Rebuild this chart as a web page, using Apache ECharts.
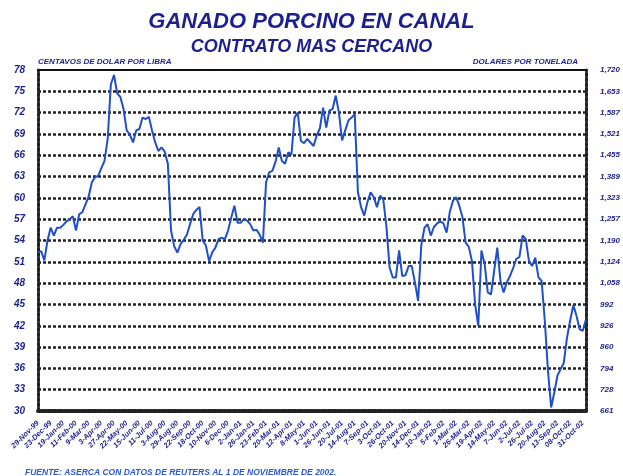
<!DOCTYPE html>
<html>
<head>
    <meta charset="utf-8" />
    <title>Ganado porcino en canal</title>
    <style>
        html, body { margin: 0; padding: 0; background: #fff; }
        #chart { width: 623px; height: 476px; }
    </style>
</head>
<body>
    <div id="chart"></div>
    <script src="https://cdn.jsdelivr.net/npm/echarts@6/dist/echarts.min.js"></script>
    <script>
        // etiquetas del eje X (una cada 4 puntos)
        var xLabels = ['29-Nov-99', '23-Dec-99', '19-Jan-00', '11-Feb-00', '9-Mar-00', '3-Apr-00', '27-Apr-00',
            '22-May-00', '15-Jun-00', '11-Jul-00', '3-Aug-00', '29-Aug-00', '22-Sep-00', '18-Oct-00', '10-Nov-00',
            '6-Dec-00', '2-Jan-01', '26-Jan-01', '23-Feb-01', '20-Mar-01', '12-Apr-01', '8-May-01', '1-Jun-01',
            '26-Jun-01', '20-Jul-01', '14-Aug-01', '7-Sep-01', '3-Oct-01', '26-Oct-01', '20-Nov-01', '14-Dec-01',
            '10-Jan-02', '5-Feb-02', '1-Mar-02', '26-Mar-02', '19-Apr-02', '14-May-02', '7-Jun-02', '2-Jul-02',
            '26-Jul-02', '20-Aug-02', '13-Sep-02', '08-Oct-02', '31-Oct-02'];
        var pointsPerLabel = 4;

        // precio (centavos de dolar por libra)
        var prices = [
            52.3, 52.5, 51.2, 54.0, 55.8, 54.7, 55.8, 55.8, 56.2, 56.7, 57.0, 57.4, 55.4, 57.7, 58.0, 59.1,
            60.2, 62.2, 62.9, 63.1, 64.2, 65.2, 68.3, 76.0, 77.3, 74.7, 74.2, 72.5, 69.5, 68.9, 67.8, 69.5,
            69.7, 71.3, 71.1, 71.4, 69.5, 67.8, 66.6, 67.1, 66.5, 64.8, 55.4, 53.2, 52.3, 53.5, 54.1, 54.8,
            56.3, 57.7, 58.3, 58.7, 54.0, 53.3, 51.1, 52.3, 53.0, 54.2, 54.4, 54.2, 55.4, 57.2, 58.9, 56.5,
            56.5, 57.0, 56.8, 56.3, 55.4, 55.5, 54.8, 53.7, 62.2, 63.6, 63.8, 65.1, 67.1, 65.2, 64.8, 66.4,
            66.1, 71.3, 72.0, 68.0, 67.7, 68.3, 67.8, 67.3, 68.8, 69.8, 72.7, 69.9, 72.3, 72.5, 74.4, 72.0,
            68.1, 69.5, 70.9, 71.3, 71.8, 60.8, 58.7, 57.5, 59.4, 60.8, 60.1, 58.7, 60.3, 59.8, 56.0, 50.2,
            48.8, 48.8, 52.6, 49.0, 49.1, 50.4, 50.4, 48.1, 45.5, 53.3, 55.8, 56.3, 54.7, 55.9, 56.4, 56.7,
            56.4, 55.1, 58.0, 59.6, 60.1, 58.9, 57.3, 53.7, 53.1, 51.1, 45.0, 42.0, 52.6, 50.7, 46.7, 46.4,
            49.7, 53.0, 48.3, 46.7, 48.1, 49.0, 50.1, 51.4, 51.7, 54.7, 54.2, 51.1, 50.4, 51.6, 48.8, 48.3,
            42.7, 35.7, 30.5, 32.6, 35.0, 35.9, 36.8, 40.3, 42.7, 44.9, 43.4, 41.5, 41.3, 42.9
        ];

        // etiquetas del eje derecho (dolares por tonelada), una por linea de 30 a 78
        var rightLabels = ['661', '728', '794', '860', '926', '992', '1,058', '1,124', '1,190',
            '1,257', '1,323', '1,389', '1,455', '1,521', '1,587', '1,653', '1,720'];

        var navy = '#1b1f8f',
            lineBlue = '#1f4fc9',
            fontFam = '"Liberation Sans", Arial, sans-serif';

        var categories = [];
        for (var i = 0; i < prices.length; i++) {
            categories.push(String(i));
        }

        var myChart = echarts.init(document.getElementById('chart'));
        var option = {
            backgroundColor: '#fff',
            animation: false,
            title: [
                {
                    text: 'GANADO PORCINO EN CANAL',
                    left: 'center',
                    top: 6,
                    textStyle: { fontFamily: fontFam, fontSize: 22, fontWeight: 'bold', fontStyle: 'italic', color: navy }
                },
                {
                    text: 'CONTRATO MAS CERCANO',
                    left: 'center',
                    top: 33,
                    textStyle: { fontFamily: fontFam, fontSize: 18, fontWeight: 'bold', fontStyle: 'italic', color: navy }
                },
                {
                    text: 'FUENTE: ASERCA CON DATOS DE REUTERS AL 1 DE NOVIEMBRE DE 2002.',
                    left: 20,
                    top: 463,
                    textStyle: { fontFamily: fontFam, fontSize: 8.5, fontWeight: 'bold', fontStyle: 'italic', color: '#2a5bd7' }
                }
            ],
            grid: { left: 38, right: 30, top: 70, bottom: 65 },
            xAxis: [
                {
                    type: 'category',
                    data: categories,
                    boundaryGap: false,
                    axisLine: { lineStyle: { color: '#222', width: 4, type: [3, 2] } },
                    axisTick: { show: false },
                    splitLine: { show: false },
                    axisLabel: {
                        interval: function (idx) { return idx % pointsPerLabel === 0; },
                        formatter: function (v, idx) {
                            return idx % pointsPerLabel === 0 ? xLabels[idx / pointsPerLabel] : '';
                        },
                        rotate: 45,
                        margin: 11,
                        fontFamily: fontFam,
                        fontSize: 7.5,
                        fontWeight: 'bold',
                        fontStyle: 'italic',
                        color: navy
                    }
                },
                {
                    // borde superior continuo
                    type: 'category',
                    position: 'top',
                    data: categories,
                    boundaryGap: false,
                    axisLine: { lineStyle: { color: '#111', width: 2 } },
                    axisTick: { show: false },
                    axisLabel: { show: false },
                    z: 5
                }
            ],
            yAxis: [
                {
                    type: 'value',
                    min: 30,
                    max: 78,
                    interval: 3,
                    name: 'CENTAVOS DE DOLAR POR LIBRA',
                    nameLocation: 'end',
                    nameGap: 4,
                    nameTextStyle: { align: 'left', fontFamily: fontFam, fontSize: 8, fontWeight: 'bold', fontStyle: 'italic', color: navy },
                    axisLine: { show: true, lineStyle: { color: '#222', width: 3, type: [3, 2] } },
                    axisTick: { show: false },
                    axisLabel: {
                        margin: 13,
                        fontFamily: fontFam,
                        fontSize: 10,
                        fontWeight: 'bold',
                        fontStyle: 'italic',
                        color: navy
                    },
                    splitLine: {
                        show: true,
                        showMinLine: false,
                        showMaxLine: false,
                        lineStyle: { color: '#222', width: 2.5, type: [3, 2] }
                    }
                },
                {
                    type: 'value',
                    position: 'right',
                    min: 30,
                    max: 78,
                    interval: 3,
                    name: 'DOLARES POR TONELADA',
                    nameLocation: 'end',
                    nameGap: 4,
                    nameTextStyle: { align: 'right', padding: [0, 8, 0, 0], fontFamily: fontFam, fontSize: 8, fontWeight: 'bold', fontStyle: 'italic', color: navy },
                    axisLine: { show: true, lineStyle: { color: '#222', width: 3, type: [3, 2] } },
                    axisTick: { show: false },
                    splitLine: { show: false },
                    axisLabel: {
                        margin: 14,
                        formatter: function (v) { return rightLabels[Math.round((v - 30) / 3)]; },
                        fontFamily: fontFam,
                        fontSize: 8,
                        fontWeight: 'bold',
                        fontStyle: 'italic',
                        color: navy
                    }
                }
            ],
            series: [
                {
                    type: 'line',
                    data: prices,
                    symbol: 'none',
                    lineStyle: { color: lineBlue, width: 2 },
                    z: 3
                }
            ]
        };
        myChart.setOption(option);
    </script>
</body>
</html>
